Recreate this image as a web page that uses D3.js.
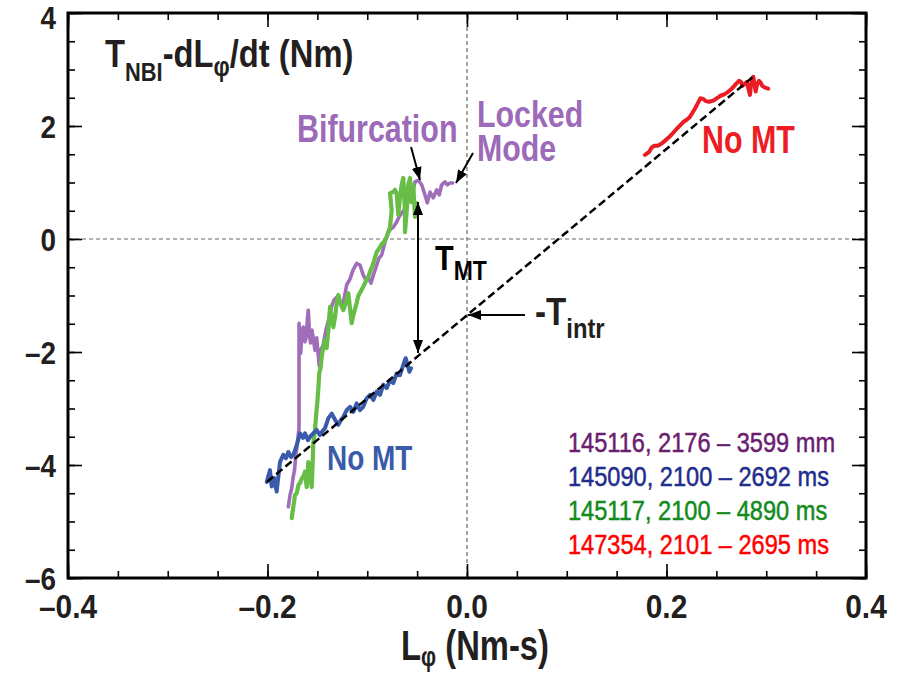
<!DOCTYPE html>
<html lang="en">
<head>
<meta charset="UTF-8">
<title>Torque vs angular momentum</title>
<script src="https://d3js.org/d3.v7.min.js"></script>
<style>
  body { margin: 0; background: #fff; }
  svg { display: block; }
  text { font-family: "Liberation Sans", Arial, sans-serif; }
</style>
</head>
<body>
<script>
// axis ticks and labels
var xTicks = [-0.4, -0.2, 0.0, 0.2, 0.4];
var xTickLabels = ["\u20130.4", "\u20130.2", "0.0", "0.2", "0.4"];
var yTicks = [4, 2, 0, -2, -4, -6];
var yTickLabels = ["4", "2", "0", "\u20132", "\u20134", "\u20136"];

// shot 145116 (purple) - L_phi (Nm-s), torque (Nm)
var purpleL = [-0.1791,-0.1774,-0.1757,-0.1744,-0.1729,-0.1719,-0.1707,-0.1694,-0.1684,-0.1684,-0.1667,-0.1654,-0.1641,-0.1624,-0.1614,-0.1599,-0.1591,-0.1579,-0.1569,-0.1554,-0.1539,-0.1524,-0.1507,-0.1494,-0.1481,-0.1469,-0.1444,-0.1414,-0.1383,-0.1353,-0.1333,-0.1306,-0.1273,-0.1240,-0.1206,-0.1173,-0.1143,-0.1106,-0.1073,-0.1040,-0.1013,-0.0989,-0.0962,-0.0939,-0.0905,-0.0882,-0.0855,-0.0822,-0.0789,-0.0762,-0.0739,-0.0705,-0.0682,-0.0655,-0.0632,-0.0605,-0.0581,-0.0554,-0.0536,-0.0521,-0.0488,-0.0454,-0.0421,-0.0398,-0.0371,-0.0338,-0.0304,-0.0278,-0.0254,-0.0221,-0.0197,-0.0170,-0.0143];
var purpleT = [-4.74,-4.53,-4.41,-4.23,-4.09,-3.88,-3.70,-3.50,-3.35,-1.49,-2.02,-1.61,-1.56,-1.82,-1.75,-1.40,-1.26,-1.70,-1.84,-1.61,-1.79,-1.97,-1.75,-2.00,-2.25,-1.97,-1.89,-1.61,-1.40,-1.17,-1.08,-1.03,-1.12,-1.13,-0.81,-0.71,-0.55,-0.43,-0.46,-0.64,-0.73,-0.69,-0.78,-0.64,-0.46,-0.34,-0.28,-0.05,0.12,0.18,0.21,0.30,0.39,0.46,0.51,0.60,0.69,0.78,0.90,1.01,1.04,0.96,0.78,0.64,0.83,0.73,0.87,0.78,0.96,1.01,0.96,0.99,0.99];

// shot 145117 (green)
var greenL = [-0.1757,-0.1741,-0.1724,-0.1707,-0.1689,-0.1674,-0.1654,-0.1641,-0.1624,-0.1607,-0.1591,-0.1574,-0.1557,-0.1547,-0.1541,-0.1524,-0.1514,-0.1501,-0.1491,-0.1481,-0.1467,-0.1457,-0.1441,-0.1424,-0.1407,-0.1390,-0.1373,-0.1356,-0.1340,-0.1323,-0.1306,-0.1290,-0.1273,-0.1240,-0.1206,-0.1190,-0.1156,-0.1140,-0.1106,-0.1090,-0.1056,-0.1023,-0.0989,-0.0972,-0.0939,-0.0905,-0.0889,-0.0855,-0.0839,-0.0805,-0.0789,-0.0772,-0.0755,-0.0772,-0.0739,-0.0722,-0.0705,-0.0689,-0.0672,-0.0655,-0.0639,-0.0622,-0.0622,-0.0605,-0.0589,-0.0571,-0.0554,-0.0538,-0.0531,-0.0521,-0.0511];
var greenT = [-4.94,-4.74,-4.53,-4.50,-4.35,-4.32,-4.23,-4.21,-4.12,-4.39,-3.95,-4.12,-4.39,-3.96,-3.61,-3.38,-3.15,-2.90,-2.67,-2.37,-2.27,-2.09,-1.91,-1.79,-1.93,-1.61,-1.20,-1.43,-1.56,-1.38,-1.13,-0.99,-1.12,-1.26,-1.08,-0.96,-1.49,-1.35,-1.13,-1.01,-0.90,-0.78,-0.67,-0.58,-0.43,-0.23,-0.19,-0.09,-0.07,0.04,0.12,0.21,0.51,0.81,0.83,0.87,0.81,0.43,0.73,0.96,1.08,0.51,0.12,0.48,0.96,1.08,0.65,0.96,0.69,0.39,0.64];

// shot 145090 (blue)
var blueL = [-0.2008,-0.1975,-0.1958,-0.1935,-0.1908,-0.1875,-0.1842,-0.1815,-0.1791,-0.1764,-0.1741,-0.1707,-0.1674,-0.1644,-0.1624,-0.1594,-0.1574,-0.1541,-0.1507,-0.1474,-0.1449,-0.1424,-0.1390,-0.1356,-0.1323,-0.1290,-0.1263,-0.1240,-0.1206,-0.1173,-0.1140,-0.1106,-0.1073,-0.1040,-0.1006,-0.0972,-0.0939,-0.0905,-0.0872,-0.0839,-0.0805,-0.0772,-0.0739,-0.0705,-0.0672,-0.0639,-0.0615,-0.0594,-0.0578,-0.0561];
var blueT = [-4.30,-4.09,-4.38,-4.23,-4.47,-3.95,-3.82,-3.88,-3.77,-3.86,-3.82,-3.65,-3.44,-3.52,-3.44,-3.56,-3.50,-3.44,-3.38,-3.47,-3.40,-3.35,-3.17,-3.09,-3.20,-3.29,-3.20,-3.15,-3.03,-2.97,-3.06,-2.91,-3.03,-2.97,-2.82,-2.76,-2.85,-2.70,-2.76,-2.58,-2.64,-2.50,-2.55,-2.38,-2.41,-2.23,-2.11,-2.23,-2.35,-2.29];

// shot 147354 (red)
var redL = [0.1784,0.1825,0.1852,0.1878,0.1912,0.1952,0.1992,0.2018,0.2052,0.2092,0.2125,0.2168,0.2203,0.2229,0.2259,0.2286,0.2313,0.2339,0.2369,0.2393,0.2426,0.2469,0.2503,0.2546,0.2579,0.2614,0.2654,0.2680,0.2704,0.2727,0.2747,0.2760,0.2780,0.2804,0.2820,0.2837,0.2847,0.2860,0.2870,0.2880,0.2894,0.2907,0.2927,0.2947,0.2960,0.2987,0.3020];
var redT = [1.49,1.54,1.62,1.65,1.65,1.69,1.75,1.79,1.85,1.93,1.99,2.07,2.11,2.15,2.23,2.31,2.40,2.49,2.48,2.44,2.43,2.45,2.49,2.54,2.56,2.60,2.66,2.71,2.76,2.80,2.78,2.71,2.74,2.78,2.67,2.55,2.73,2.84,2.87,2.76,2.61,2.73,2.80,2.76,2.71,2.68,2.66];

// linear fit through the no-MT shots
var fitL = [-0.2005, 0.2867];
var fitT = [-4.30, 2.87];

var legendLabels = ["145116, 2176 \u2013 3599 mm", "145090, 2100 \u2013 2692 ms",
                    "145117, 2100 \u2013 4890 ms", "147354, 2101 \u2013 2695 ms"];
var legendColors = ["#6b1d6f", "#1f2d8c", "#138a1c", "#ff0000"];

var width = 897, height = 674;
var margin = {left: 68, right: 31, top: 13, bottom: 96};

var x = d3.scaleLinear().domain([-0.4, 0.4]).range([margin.left, width - margin.right]);
var y = d3.scaleLinear().domain([-6, 4]).range([height - margin.bottom, margin.top]);

var svg = d3.select("body").append("svg")
    .attr("width", width)
    .attr("height", height);

// arrow heads
var defs = svg.append("defs");
defs.append("marker")
    .attr("id", "head")
    .attr("viewBox", "0 0 13 10")
    .attr("refX", 13).attr("refY", 5)
    .attr("markerWidth", 13).attr("markerHeight", 10)
    .attr("markerUnits", "userSpaceOnUse")
    .attr("orient", "auto-start-reverse")
    .append("path")
    .attr("d", "M0,0 L13,5 L0,10 Z")
    .attr("fill", "#000");

// zero lines
svg.append("line")
    .attr("x1", x(-0.4)).attr("x2", x(0.4))
    .attr("y1", y(0)).attr("y2", y(0))
    .attr("stroke", "#666").attr("stroke-width", 1.2)
    .attr("stroke-dasharray", "4,3");
svg.append("line")
    .attr("x1", x(0)).attr("x2", x(0))
    .attr("y1", y(4)).attr("y2", y(-6))
    .attr("stroke", "#666").attr("stroke-width", 1.2)
    .attr("stroke-dasharray", "4,3");

// inward ticks on all four sides
function ticks(axis, values, size, tr) {
    svg.append("g")
        .attr("transform", tr)
        .call(axis.tickValues(values).tickSize(size).tickFormat(""))
        .call(function(g) { g.select(".domain").remove(); })
        .selectAll("line")
        .attr("stroke", "#000")
        .attr("stroke-width", 1.6);
}
var xMinor = d3.range(-0.4, 0.401, 0.05);
var yMinor = d3.range(-6, 4.01, 0.5);
var bottomY = y(-6), topY = y(4), leftX = x(-0.4), rightX = x(0.4);
ticks(d3.axisBottom(x), xMinor, -7, "translate(0," + bottomY + ")");
ticks(d3.axisBottom(x), xTicks, -14, "translate(0," + bottomY + ")");
ticks(d3.axisTop(x), xMinor, -7, "translate(0," + topY + ")");
ticks(d3.axisTop(x), xTicks, -14, "translate(0," + topY + ")");
ticks(d3.axisLeft(y), yMinor, -7, "translate(" + leftX + ",0)");
ticks(d3.axisLeft(y), yTicks, -14, "translate(" + leftX + ",0)");
ticks(d3.axisRight(y), yMinor, -7, "translate(" + rightX + ",0)");
ticks(d3.axisRight(y), yTicks, -14, "translate(" + rightX + ",0)");

// condensed text helper
function txt(px, py, sx, size, weight, color, anchor) {
    return svg.append("text")
        .attr("transform", "translate(" + px + "," + py + ") scale(" + sx + ",1)")
        .attr("font-size", size)
        .attr("font-weight", weight)
        .attr("fill", color)
        .attr("text-anchor", anchor || "start");
}

// tick labels
xTicks.forEach(function(v, i) {
    txt(x(v), bottomY + 40, 0.88, 34, "bold", "#231f20", "middle").text(xTickLabels[i]);
});
yTicks.forEach(function(v, i) {
    // the top label sits a little lower so it stays inside the page
    var dy = i === 0 ? 16 : 12;
    txt(leftX - 12, y(v) + dy, 0.9, 31, "bold", "#231f20", "end").text(yTickLabels[i]);
});

// traces
var line = d3.line()
    .x(function(d) { return x(d[0]); })
    .y(function(d) { return y(d[1]); });

function trace(L, T, color, w) {
    svg.append("path")
        .datum(d3.zip(L, T))
        .attr("d", line)
        .attr("fill", "none")
        .attr("stroke", color)
        .attr("stroke-width", w)
        .attr("stroke-linejoin", "round")
        .attr("stroke-linecap", "round");
}
trace(purpleL, purpleT, "#a06dbb", 3.6);
trace(greenL, greenT, "#67bd45", 4.2);
trace(blueL, blueT, "#3a5aaa", 4);
trace(redL, redT, "#ec1c24", 4);

// fit line
svg.append("path")
    .datum(d3.zip(fitL, fitT))
    .attr("d", line)
    .attr("fill", "none")
    .attr("stroke", "#000")
    .attr("stroke-width", 2.5)
    .attr("stroke-dasharray", "8,4");

// frame
svg.append("rect")
    .attr("x", leftX).attr("y", topY)
    .attr("width", rightX - leftX).attr("height", bottomY - topY)
    .attr("fill", "none")
    .attr("stroke", "#000")
    .attr("stroke-width", 3);

// axis titles
var xt = txt(x(0) + 8, height - 14, 0.78, 42, "bold", "#231f20", "middle");
xt.append("tspan").text("L");
xt.append("tspan").attr("font-size", 27).attr("dy", 6).text("\u03c6");
xt.append("tspan").attr("dy", -6).text(" (Nm-s)");

var yt = txt(x(-0.3629), y(3.05), 0.84, 39, "bold", "#231f20");
yt.append("tspan").text("T");
yt.append("tspan").attr("font-size", 26).attr("dy", 14).text("NBI");
yt.append("tspan").attr("dy", -14).text("-dL");
yt.append("tspan").attr("font-size", 27).attr("dy", 9).text("\u03c6");
yt.append("tspan").attr("dy", -9).text("/dt (Nm)");

// annotations
txt(x(-0.1704), y(1.717), 0.8, 38, "bold", "#9c6ab8").text("Bifurcation");
txt(x(0.010), y(1.982), 0.82, 37, "bold", "#9c6ab8").text("Locked");
txt(x(0.010), y(1.381), 0.82, 37, "bold", "#9c6ab8").text("Mode");
txt(x(0.2356), y(1.522), 0.8, 38, "bold", "#ee1c25").text("No MT");
txt(x(-0.1404), y(-4.088), 0.8, 35, "bold", "#3a5aaa").text("No MT");

var tmt = txt(x(-0.0321), y(-0.549), 0.85, 36, "bold", "#000");
tmt.append("tspan").text("T");
tmt.append("tspan").attr("font-size", 27).attr("dy", 10).text("MT");

var tin = txt(x(0.0682), y(-1.522), 0.85, 39, "bold", "#231f20");
tin.append("tspan").text("-T");
tin.append("tspan").attr("font-size", 28).attr("dy", 13).text("intr");

// arrows
function arrow(x1, y1, x2, y2, both) {
    var a = svg.append("line")
        .attr("x1", x(x1)).attr("y1", y(y1))
        .attr("x2", x(x2)).attr("y2", y(y2))
        .attr("stroke", "#000").attr("stroke-width", 2)
        .attr("marker-end", "url(#head)");
    if (both) a.attr("marker-start", "url(#head)");
}
arrow(-0.0561, 1.628, -0.0471, 1.044);
arrow(0.0060, 1.522, -0.0110, 0.991);
arrow(-0.0491, -2.018, -0.0491, 0.655, true);
arrow(0.0581, -1.345, 0.001, -1.345);

// legend
legendLabels.forEach(function(s, i) {
    txt(568, 452 + i * 34, 0.843, 28, "normal", legendColors[i])
        .attr("stroke", legendColors[i])
        .attr("stroke-width", 0.5)
        .text(s);
});
</script>
</body>
</html>
